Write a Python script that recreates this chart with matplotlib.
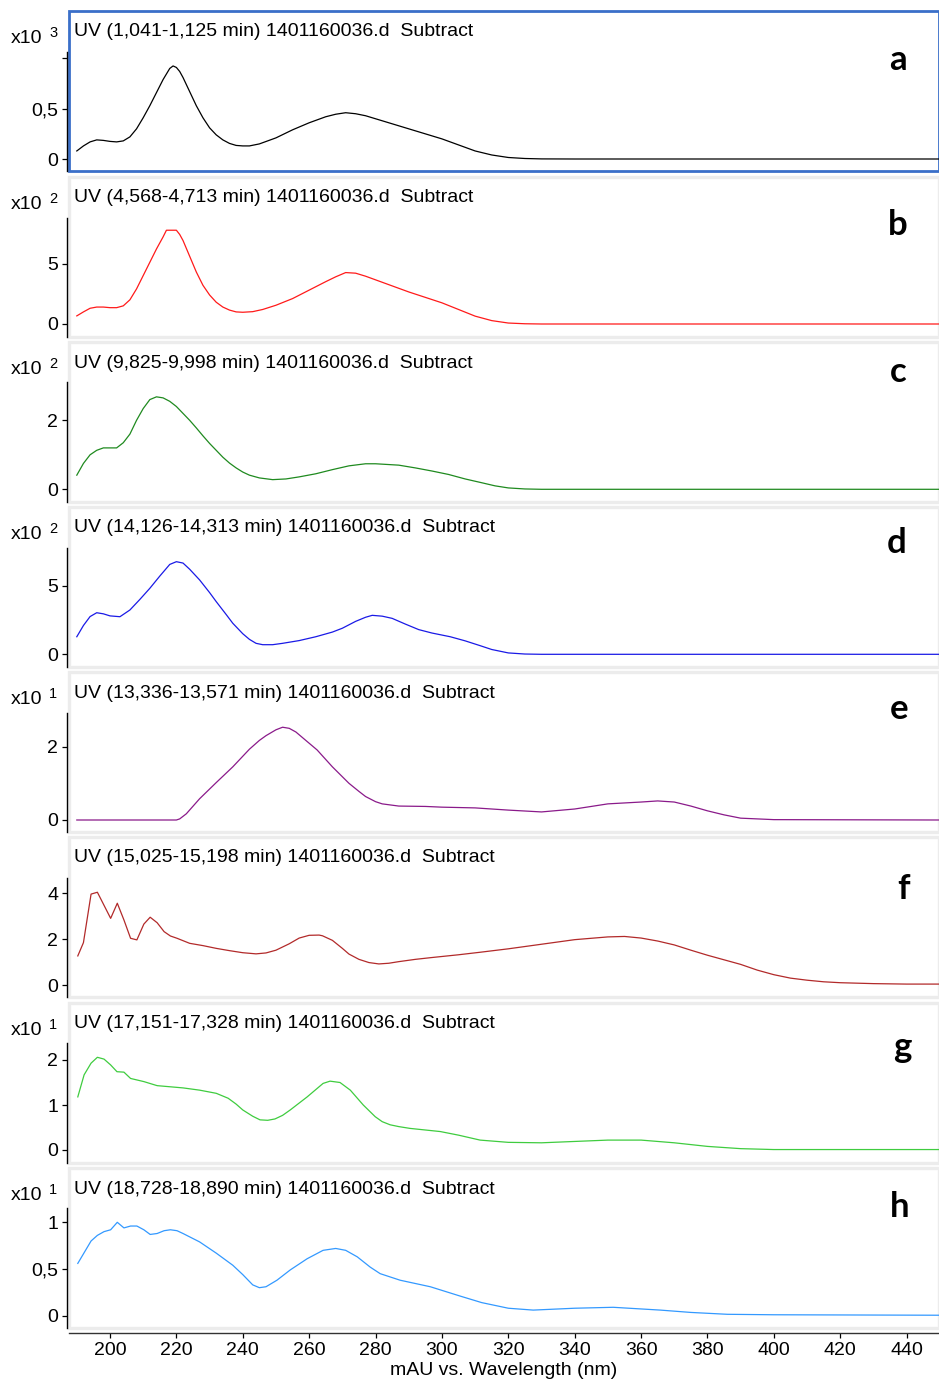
import matplotlib
matplotlib.use("Agg")
import matplotlib.pyplot as plt
from matplotlib.ticker import FixedLocator, FixedFormatter

# ---------------------------------------------------------------- data
# UV spectra (values in the units shown on each axis, i.e. before the x10^n factor)
wl_a = [190, 192, 194, 196, 198, 200, 202, 204, 206, 208, 210, 212, 214, 216, 218, 219,
        220, 221, 222, 224, 226, 228, 230, 232, 234, 236, 238, 240, 242, 245, 250, 255,
        260, 265, 268, 271, 274, 277, 280, 285, 290, 295, 300, 305, 310, 315, 320, 325,
        330, 340, 450]
ab_a = [0.08, 0.13, 0.17, 0.19, 0.185, 0.175, 0.17, 0.18, 0.22, 0.30, 0.41, 0.53, 0.66,
        0.79, 0.90, 0.925, 0.91, 0.87, 0.81, 0.67, 0.53, 0.41, 0.31, 0.24, 0.19, 0.155,
        0.135, 0.13, 0.13, 0.15, 0.21, 0.29, 0.36, 0.42, 0.445, 0.46, 0.45, 0.43, 0.40,
        0.35, 0.30, 0.25, 0.20, 0.14, 0.08, 0.04, 0.015, 0.005, 0.001, 0.0, 0.0]

wl_b = [190, 192, 194, 196, 198, 200, 202, 204, 206, 208, 210, 212, 214, 216, 217, 220,
        221, 222, 224, 226, 228, 230, 232, 234, 236, 238, 240, 243, 246, 250, 255, 260,
        265, 268, 271, 274, 277, 280, 285, 290, 295, 300, 305, 310, 315, 320, 325, 330, 450]
ab_b = [0.67, 1.0, 1.3, 1.4, 1.4, 1.35, 1.35, 1.5, 2.0, 2.9, 4.0, 5.1, 6.2, 7.2, 7.75,
        7.75, 7.4, 6.9, 5.6, 4.3, 3.2, 2.4, 1.8, 1.4, 1.15, 1.0, 0.97, 1.02, 1.2, 1.55,
        2.1, 2.8, 3.5, 3.9, 4.25, 4.2, 3.95, 3.65, 3.15, 2.65, 2.2, 1.75, 1.2, 0.65, 0.28,
        0.08, 0.02, 0.0, 0.0]

wl_c = [190, 192, 194, 196, 198, 200, 202, 204, 206, 208, 210, 212, 214, 216, 218, 220,
        222, 224, 226, 228, 230, 232, 234, 236, 238, 240, 242, 245, 249, 253, 257, 262,
        267, 272, 277, 280, 287, 292, 297, 302, 307, 312, 316, 320, 325, 330, 450]
ab_c = [0.41, 0.75, 1.0, 1.13, 1.2, 1.2, 1.2, 1.35, 1.6, 2.0, 2.34, 2.6, 2.68, 2.65, 2.55,
        2.4, 2.2, 2.0, 1.78, 1.55, 1.33, 1.13, 0.93, 0.76, 0.62, 0.5, 0.41, 0.33, 0.28,
        0.3, 0.36, 0.45, 0.57, 0.68, 0.74, 0.74, 0.7, 0.62, 0.53, 0.43, 0.3, 0.19, 0.1,
        0.04, 0.01, 0.0, 0.0]

wl_d = [190, 192, 194, 196, 198, 200, 203, 206, 209, 212, 215, 218, 220, 222, 224, 227,
        230, 232, 235, 237, 240, 242, 244, 246, 249, 252, 257, 262, 267, 270, 274, 277,
        279, 282, 285, 289, 293, 297, 302.5, 307, 311.5, 315, 320, 325, 330, 450]
ab_d = [1.28, 2.1, 2.75, 3.03, 2.95, 2.8, 2.74, 3.23, 4.0, 4.81, 5.7, 6.55, 6.75, 6.65,
        6.2, 5.42, 4.5, 3.84, 2.9, 2.26, 1.5, 1.09, 0.8, 0.7, 0.7, 0.8, 1.0, 1.28, 1.62,
        1.9, 2.4, 2.7, 2.84, 2.78, 2.62, 2.2, 1.8, 1.55, 1.28, 0.98, 0.63, 0.35, 0.1,
        0.02, 0.0, 0.0]

wl_e = [190, 220, 221, 223, 227, 232, 237, 242, 245, 247, 250, 252, 254, 256, 259, 262.4,
        265, 267, 270, 272, 275, 277, 280, 282, 287, 295, 300, 310, 320, 330, 340, 350,
        360, 365, 370, 375, 380, 385, 390, 400, 450]
ab_e = [0.0, 0.0, 0.03, 0.17, 0.58, 1.02, 1.45, 1.93, 2.17, 2.3, 2.46, 2.53, 2.5, 2.4, 2.17,
        1.91, 1.65, 1.45, 1.18, 1.0, 0.78, 0.64, 0.5, 0.44, 0.38, 0.37, 0.35, 0.33, 0.27,
        0.22, 0.3, 0.44, 0.49, 0.52, 0.49, 0.38, 0.25, 0.14, 0.05, 0.01, 0.0]

wl_f = [190.3, 192, 194.3, 196.2, 200.2, 202.2, 204.2, 206.2, 208.1, 210.2, 212.1, 214.2,
        216.3, 218.2, 220.2, 224, 228, 232, 236, 240, 244, 247, 250, 254, 257, 260, 263,
        264, 267, 270, 272, 275, 278, 281, 284, 287, 292, 297, 305, 311.5, 320, 330, 340,
        350, 355, 360, 365, 370, 375, 380, 385, 390, 395, 400, 405, 410, 415, 420, 430,
        440, 450]
ab_f = [1.27, 1.85, 3.97, 4.05, 2.91, 3.57, 2.84, 2.04, 1.97, 2.66, 2.96, 2.72, 2.33,
        2.14, 2.04, 1.82, 1.72, 1.6, 1.5, 1.41, 1.36, 1.4, 1.52, 1.8, 2.05, 2.17, 2.18,
        2.15, 1.95, 1.6, 1.35, 1.12, 0.98, 0.92, 0.95, 1.02, 1.12, 1.2, 1.32, 1.43, 1.58,
        1.78, 1.98, 2.1, 2.12, 2.05, 1.92, 1.75, 1.52, 1.3, 1.1, 0.9, 0.65, 0.45, 0.3,
        0.21, 0.14, 0.1, 0.06, 0.04, 0.04]

wl_g = [190.3, 192.2, 194.3, 196.2, 198.2, 200.2, 202.1, 204.2, 206.2, 210.2, 214.2, 222,
        227, 232, 235.6, 238, 240, 243, 245.2, 247.5, 249.7, 252, 254.3, 259.4, 264.2,
        266.3, 269.3, 272.4, 276.3, 279.9, 282, 284.4, 287, 290.4, 299.5, 305, 311.5, 320,
        330, 340, 350, 360, 370, 380, 390, 400, 450]
ab_g = [1.18, 1.67, 1.93, 2.06, 2.02, 1.89, 1.74, 1.73, 1.59, 1.52, 1.43, 1.38, 1.33, 1.26,
        1.15, 1.02, 0.89, 0.75, 0.67, 0.66, 0.69, 0.77, 0.89, 1.18, 1.48, 1.53, 1.5, 1.33,
        1.0, 0.74, 0.63, 0.56, 0.52, 0.48, 0.41, 0.33, 0.22, 0.17, 0.16, 0.19, 0.22, 0.22,
        0.16, 0.08, 0.03, 0.01, 0.01]

wl_h = [190.3, 194.3, 196.2, 198.2, 200.2, 202.2, 204.2, 206.2, 208.1, 210.2, 212.1, 214.2,
        216.3, 218.2, 220.2, 222, 227, 232, 237, 240, 243, 245, 247, 250.3, 254.3, 259.4,
        264.2, 268, 271, 274.5, 278.4, 281.4, 287.4, 296.5, 305.5, 312, 320, 327.5, 340,
        351.6, 365.8, 375, 386, 400, 450]
ab_h = [0.56, 0.8, 0.86, 0.9, 0.92, 1.0, 0.94, 0.96, 0.96, 0.92, 0.87, 0.88, 0.91, 0.92,
        0.91, 0.88, 0.79, 0.67, 0.54, 0.44, 0.33, 0.30, 0.31, 0.38, 0.49, 0.61, 0.70, 0.72,
        0.70, 0.63, 0.52, 0.45, 0.38, 0.31, 0.21, 0.14, 0.08, 0.06, 0.08, 0.09, 0.06, 0.035,
        0.015, 0.01, 0.005]

titles = [
    "UV (1,041-1,125 min) 1401160036.d  Subtract",
    "UV (4,568-4,713 min) 1401160036.d  Subtract",
    "UV (9,825-9,998 min) 1401160036.d  Subtract",
    "UV (14,126-14,313 min) 1401160036.d  Subtract",
    "UV (13,336-13,571 min) 1401160036.d  Subtract",
    "UV (15,025-15,198 min) 1401160036.d  Subtract",
    "UV (17,151-17,328 min) 1401160036.d  Subtract",
    "UV (18,728-18,890 min) 1401160036.d  Subtract",
]
letters = ["a", "b", "c", "d", "e", "f", "g", "h"]
exponents = ["3", "2", "2", "2", "1", None, "1", "1"]
yticks = [[0, 0.5, 1.0], [0, 5], [0, 2], [0, 5], [0, 2], [0, 2, 4], [0, 1, 2], [0, 0.5, 1]]
ytick_labels = [["0", "0,5", ""], ["0", "5"], ["0", "2"], ["0", "5"], ["0", "2"],
                ["0", "2", "4"], ["0", "1", "2"], ["0", "0,5", "1"]]
xticks = [200, 220, 240, 260, 280, 300, 320, 340, 360, 380, 400, 420, 440]
xlabel = "mAU vs. Wavelength (nm)"

colors = ["#000000", "#ff1a1a", "#1f8a1f", "#1a1ae6", "#8a1a8a", "#b22a2a", "#3fcc3f", "#3399ff"]
wavelengths = [wl_a, wl_b, wl_c, wl_d, wl_e, wl_f, wl_g, wl_h]
absorbances = [ab_a, ab_b, ab_c, ab_d, ab_e, ab_f, ab_g, ab_h]

# ---------------------------------------------------------------- layout (pixels)
W, H, DPI = 939, 1382, 100
box_left, box_right = 69, 939
box_tops = [11, 177, 342, 507, 672, 837, 1003, 1168]
box_h = 160
zero_px = [159, 324, 489.3, 654.3, 820, 985, 1150, 1315.7]
px_per_unit = [100.6, 12.1, 34.5, 13.72, 36.67, 22.9, 45.0, 93.4]
spine_top_px = [52, 218, 382, 548, 713, 878, 1043, 1208]
letter_pos = [(898, 60), (898, 225), (898, 372), (897, 543), (899, 709), (903, 889),
              (902, 1047), (900, 1207)]
xlim = (187.65, 449.75)
FS = 14

TEXT_FONT = ["Liberation Sans", "DejaVu Sans"]
plt.rcParams["font.family"] = TEXT_FONT


def fx(px):
    return px / W


def fy(py):
    return 1 - py / H


fig = plt.figure(figsize=(W / DPI, H / DPI), dpi=DPI)
fig.patch.set_facecolor("white")

for i in range(8):
    top = box_tops[i]
    bot = top + box_h
    ax = fig.add_axes([fx(box_left), fy(bot), fx(box_right - box_left), box_h / H])
    ymin = -(bot - zero_px[i]) / px_per_unit[i]
    ymax = (zero_px[i] - top) / px_per_unit[i]
    ax.set_xlim(*xlim)
    ax.set_ylim(ymin, ymax)

    ax.plot(wavelengths[i], absorbances[i], color=colors[i], lw=0.9, solid_joinstyle="round")

    # panel frame
    if i == 0:
        ax.patch.set_edgecolor("#3a6fc9")
        ax.patch.set_linewidth(2.0)
    else:
        ax.patch.set_edgecolor("#ececec")
        ax.patch.set_linewidth(2.4)
    ax.patch.set_facecolor("white")

    for s in ("top", "right"):
        ax.spines[s].set_visible(False)
    ax.spines["left"].set_position(("outward", 1.5))
    ax.spines["left"].set_linewidth(1.0)
    ax.spines["left"].set_bounds(ymin, (zero_px[i] - spine_top_px[i]) / px_per_unit[i])

    ax.yaxis.set_major_locator(FixedLocator(yticks[i]))
    ax.yaxis.set_major_formatter(FixedFormatter(ytick_labels[i]))
    ax.tick_params(axis="y", direction="out", length=3.8, width=0.9, pad=2.5,
                   labelsize=FS, colors="black")

    if i < 7:
        ax.spines["bottom"].set_visible(False)
        ax.set_xticks([])
    else:
        ax.spines["bottom"].set_position(("outward", 3.5))
        ax.spines["bottom"].set_linewidth(1.0)
        ax.spines["bottom"].set_color("#333333")
        ax.set_xticks(xticks)
        ax.tick_params(axis="x", direction="out", length=3.5, width=0.9, pad=3,
                       labelsize=FS, colors="black")
        ax.set_xlabel(xlabel, fontsize=FS, labelpad=2)

    # header text
    fig.text(fx(74), fy(top + 21), titles[i], fontsize=FS, ha="left", va="center")
    if exponents[i] is not None:
        fig.text(fx(11), fy(top + 27.5), "x10", fontsize=FS, ha="left", va="center")
        fig.text(fx(49), fy(top + 22), exponents[i], fontsize=10.5, ha="left", va="center")
    lx, ly = letter_pos[i]
    fig.text(fx(lx), fy(ly), letters[i], fontsize=25, fontweight="bold",
             family=["Lato", "DejaVu Sans"], ha="center", va="center")

fig.savefig("out.png", dpi=DPI, facecolor="white")
